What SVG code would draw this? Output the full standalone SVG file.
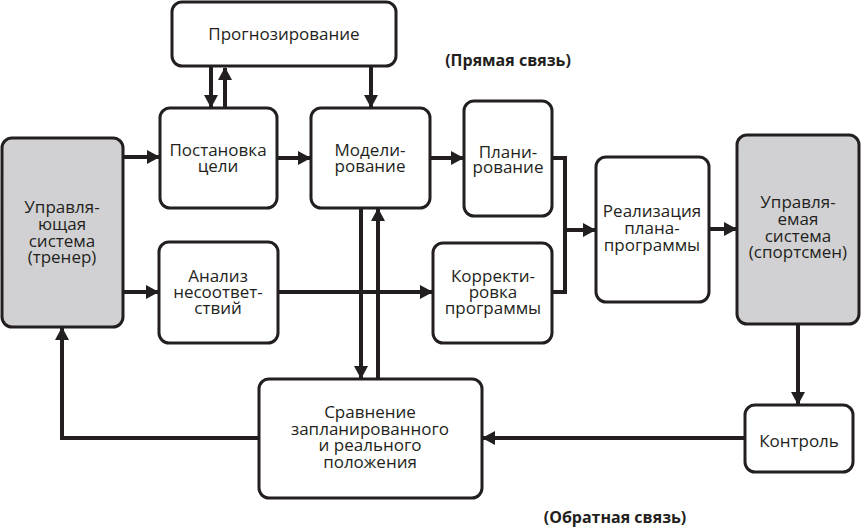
<svg xmlns="http://www.w3.org/2000/svg" width="862" height="532" viewBox="0 0 862 532">
<style>
.box{fill:#fff;stroke:#231f20;stroke-width:3}
.gray{fill:#d1d1d3}
text{font-family:"Open Sans","Noto Sans","Liberation Sans",sans-serif;font-size:17px;fill:#231f20;text-anchor:middle}
.lbl{font-weight:bold;font-size:16px}
.c{fill:none;stroke:#231f20;stroke-width:4}
.a{marker-end:url(#ah)}
</style>
<defs>
<marker id="ah" markerUnits="userSpaceOnUse" markerWidth="13" markerHeight="14" refX="12" refY="7" orient="auto">
<path d="M0,0 L13,7 L0,14 z" fill="#231f20"/>
</marker>
</defs>
<rect width="862" height="532" fill="#fff"/>
<g id="connectors">
<line class="c a" x1="211" y1="67" x2="211" y2="107"/>
<line class="c a" x1="225" y1="108" x2="225" y2="68"/>
<line class="c a" x1="371" y1="67" x2="371" y2="107"/>
<line class="c a" x1="123" y1="157" x2="159" y2="157"/>
<line class="c a" x1="277" y1="158" x2="310" y2="158"/>
<line class="c a" x1="430" y1="158" x2="463" y2="158"/>
<polyline class="c" points="552,158 565,158 565,292 552,292"/>
<line class="c a" x1="565" y1="230" x2="595" y2="230"/>
<line class="c a" x1="709" y1="229" x2="736" y2="229"/>
<line class="c a" x1="123" y1="292" x2="158" y2="292"/>
<line class="c a" x1="278" y1="292" x2="432" y2="292"/>
<line class="c a" x1="361" y1="208" x2="361" y2="378"/>
<line class="c a" x1="378" y1="379" x2="378" y2="209"/>
<line class="c a" x1="798" y1="324" x2="798" y2="404"/>
<line class="c a" x1="745" y1="438" x2="483" y2="438"/>
<polyline class="c a" points="259,438 62,438 62,328"/>
</g>
<g id="prognoz">
<rect class="box" x="172" y="2" width="224" height="64" rx="10"/>
<text x="284" y="40">Прогнозирование</text>
</g>
<g id="postanovka">
<rect class="box" x="160" y="108" width="117" height="100" rx="10"/>
<text x="218" y="156">Постановка</text>
<text x="218" y="172">цели</text>
</g>
<g id="model">
<rect class="box" x="311" y="108" width="119" height="100" rx="10"/>
<text x="370" y="156">Модели-</text>
<text x="370" y="172">рование</text>
</g>
<g id="plan">
<rect class="box" x="464" y="101" width="88" height="115" rx="10"/>
<text x="508" y="158">Плани-</text>
<text x="508" y="173">рование</text>
</g>
<g id="upr">
<rect class="box gray" x="2" y="138" width="121" height="189" rx="10"/>
<text x="62" y="213">Управля-</text>
<text x="62" y="230">ющая</text>
<text x="62" y="247">система</text>
<text x="62" y="263">(тренер)</text>
</g>
<g id="analiz">
<rect class="box" x="159" y="242" width="119" height="101" rx="10"/>
<text x="218" y="282">Анализ</text>
<text x="218" y="298">несоответ-</text>
<text x="218" y="314">ствий</text>
</g>
<g id="korr">
<rect class="box" x="433" y="243" width="119" height="100" rx="10"/>
<text x="493" y="282">Корректи-</text>
<text x="493" y="298">ровка</text>
<text x="493" y="314">программы</text>
</g>
<g id="real">
<rect class="box" x="596" y="157" width="113" height="145" rx="10"/>
<text x="652" y="217">Реализация</text>
<text x="652" y="234">плана-</text>
<text x="652" y="251">программы</text>
</g>
<g id="upremaya">
<rect class="box gray" x="737" y="135" width="122" height="189" rx="10"/>
<text x="798" y="208">Управля-</text>
<text x="798" y="225">емая</text>
<text x="798" y="242">система</text>
<text x="798" y="258">(спортсмен)</text>
</g>
<g id="sravn">
<rect class="box" x="259" y="379" width="223" height="119" rx="10"/>
<text x="370" y="418">Сравнение</text>
<text x="370" y="435">запланированного</text>
<text x="370" y="451">и реального</text>
<text x="370" y="468">положения</text>
</g>
<g id="kontrol">
<rect class="box" x="745" y="405" width="108" height="67" rx="10"/>
<text x="799" y="447">Контроль</text>
</g>
<text class="lbl" x="508" y="66">(Прямая связь)</text>
<text class="lbl" x="615" y="523">(Обратная связь)</text>
</svg>
